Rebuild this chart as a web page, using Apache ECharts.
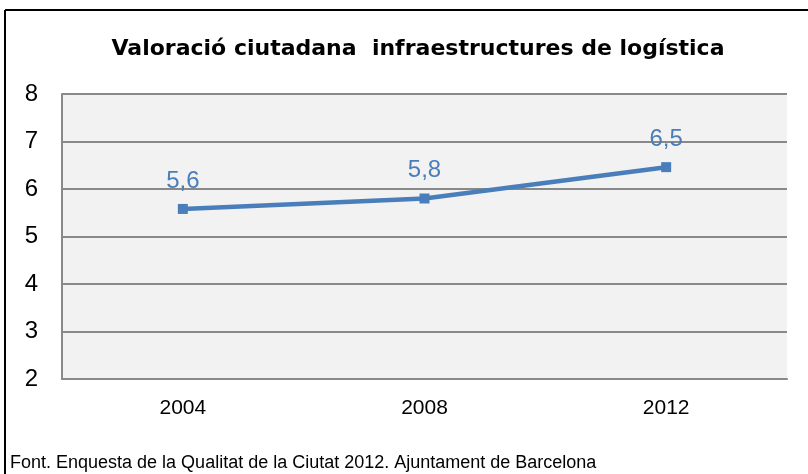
<!DOCTYPE html>
<html><head><meta charset="utf-8">
<script src="https://cdn.jsdelivr.net/npm/echarts@6/dist/echarts.min.js"></script>
<style>html,body{margin:0;padding:0;background:#fff}#c{width:808px;height:474px}</style>
</head><body><div id="c"></div>
<script>
const categories = ['2004', '2008', '2012'];
const values = [5.58, 5.8, 6.46];
const yTicks = [2, 3, 4, 5, 6, 7, 8];

const chart = echarts.init(document.getElementById('c'), null, {renderer: 'canvas'});
chart.setOption({
  animation: false,
  backgroundColor: '#fff',
  title: {
    text: 'Valoració ciutadana  infraestructures de logística',
    left: 413, top: 33, textAlign: 'center',
    textStyle: {fontFamily: 'DejaVu Sans', fontWeight: 'bold', fontSize: 22, color: '#000'}
  },
  grid: {left: 62, right: 21, top: 94, bottom: 95, show: true, backgroundColor: '#f2f2f2', borderWidth: 0},
  xAxis: {
    type: 'category', data: categories, boundaryGap: true,
    axisLine: {show: true, lineStyle: {color: '#898989', width: 2}},
    axisTick: {show: false},
    axisLabel: {fontFamily: 'Liberation Sans', fontSize: 21, color: '#000', margin: 19}
  },
  yAxis: {
    type: 'value', min: yTicks[0], max: yTicks[yTicks.length - 1], interval: 1,
    axisLine: {show: true, lineStyle: {color: '#898989', width: 2}},
    axisTick: {show: false},
    splitLine: {show: true, lineStyle: {color: '#898989', width: 2}},
    axisLabel: {fontFamily: 'Liberation Sans', fontSize: 24, color: '#000', margin: 24}
  },
  series: [{
    type: 'line', data: values,
    symbol: 'rect', symbolSize: 10,
    lineStyle: {color: '#4a7ebb', width: 4.5},
    itemStyle: {color: '#4a7ebb'},
    label: {
      show: true, position: 'top', distance: 11,
      fontFamily: 'Liberation Sans', fontSize: 24, color: '#4a7ebb',
      formatter: p => p.value.toFixed(1).replace('.', ',')
    }
  }],
  graphic: [
    {type: 'line', shape: {x1: 5, y1: 10, x2: 808, y2: 10}, style: {stroke: '#000', lineWidth: 2}},
    {type: 'line', shape: {x1: 5, y1: 10, x2: 5, y2: 474}, style: {stroke: '#000', lineWidth: 2}},
    {type: 'text', left: 10, top: 454, style: {text: 'Font. Enquesta de la Qualitat de la Ciutat 2012. Ajuntament de Barcelona', fontFamily: 'Liberation Sans', fontSize: 18, fill: '#000'}}
  ]
});
</script></body></html>
